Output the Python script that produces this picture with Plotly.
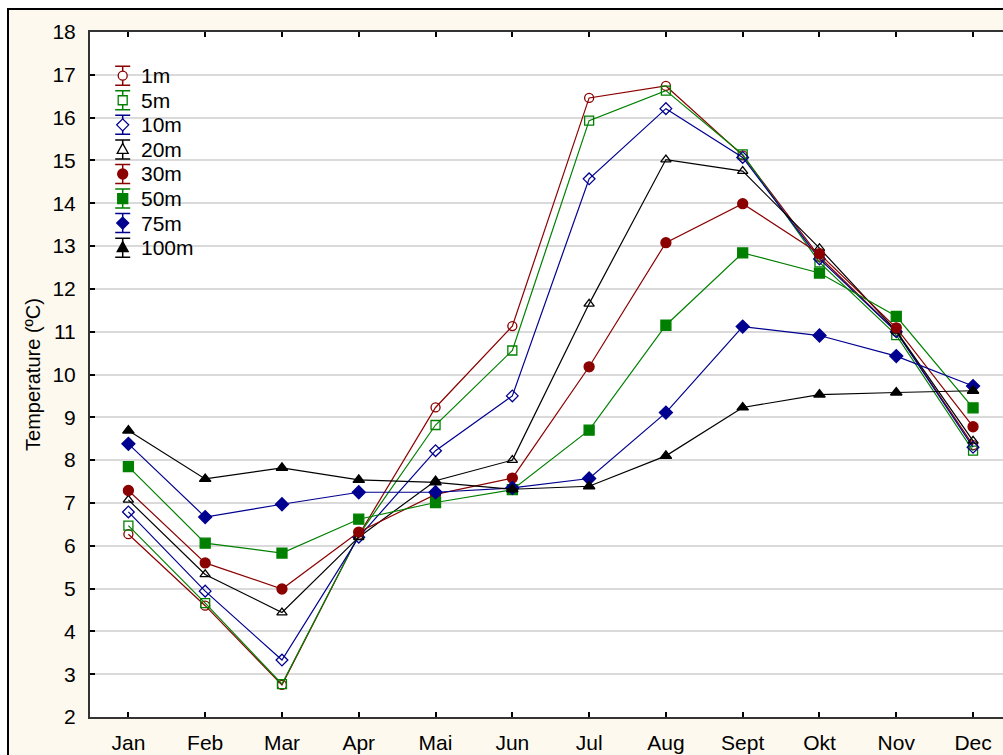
import plotly.graph_objects as go

months = ["Jan", "Feb", "Mar", "Apr", "Mai", "Jun", "Jul", "Aug", "Sept", "Okt", "Nov", "Dec"]

t_1m   = [6.27, 4.6, 2.75, 6.25, 9.23, 11.13, 16.46, 16.74, 15.12, 12.75, 11.0, 8.35]
t_5m   = [6.47, 4.66, 2.77, 6.25, 8.82, 10.56, 15.93, 16.63, 15.14, 12.62, 10.92, 8.22]
t_10m  = [6.79, 4.94, 3.33, 6.2, 8.22, 9.5, 14.57, 16.21, 15.07, 12.7, 11.0, 8.3]
t_20m  = [7.07, 5.33, 4.44, 6.2, 7.52, 8.0, 11.65, 15.02, 14.75, 12.95, 11.02, 8.45]
t_30m  = [7.29, 5.6, 4.99, 6.32, 7.2, 7.58, 10.18, 13.08, 13.99, 12.82, 11.09, 8.78]
t_50m  = [7.85, 6.06, 5.83, 6.62, 7.01, 7.31, 8.7, 11.15, 12.84, 12.37, 11.36, 9.22]
t_75m  = [8.38, 6.67, 6.97, 7.25, 7.25, 7.35, 7.57, 9.11, 11.12, 10.91, 10.43, 9.73]
t_100m = [8.69, 7.56, 7.82, 7.54, 7.48, 7.32, 7.39, 8.1, 9.23, 9.53, 9.58, 9.62]

series_names = ["1m", "5m", "10m", "20m", "30m", "50m", "75m", "100m"]
series_values = [t_1m, t_5m, t_10m, t_20m, t_30m, t_50m, t_75m, t_100m]

RED = "#8B0000"
GREEN = "#008000"
BLUE = "#000090"
BLACK = "#000000"
colors = [RED, GREEN, BLUE, BLACK, RED, GREEN, BLUE, BLACK]
symbols = ["circle-open", "square-open", "diamond-open", "triangle-up-open",
           "circle", "square", "diamond", "triangle-up"]
sizes = [9, 9, 9, 9, 10, 10, 10, 10]

FONT = "Liberation Sans, Arial, sans-serif"

fig = go.Figure()
for name, vals, c, s, sz in zip(series_names, series_values, colors, symbols, sizes):
    fig.add_trace(go.Scatter(
        x=months, y=vals, mode="lines+markers", name=name, showlegend=False,
        line=dict(color=c, width=1.2),
        marker=dict(symbol=s, size=sz, color=c, line=dict(color=c, width=1.3)),
    ))

# ---- plot-area geometry (pixels) used for the hand-built legend ----
PL, PR, PT, PB = 90, 1003, 32, 717
W, H = PR - PL, PB - PT


def px2paper_x(px):
    return (px - PL) / W


def px2paper_y(py):
    return (PB - py) / H


# ---- legend: error-bar style symbol + marker + text ----
shapes = [
    dict(type="rect", xref="paper", yref="paper",
         x0=px2paper_x(8), x1=1.2, y0=-0.3, y1=px2paper_y(9),
         fillcolor="#FEF9EE", line=dict(color="#000000", width=2), layer="below"),
    dict(type="rect", xref="paper", yref="paper",
         x0=0, x1=1, y0=0, y1=1,
         fillcolor="#FFFFFF", line=dict(width=0), layer="below"),
]
annotations = []
LEG_X, LEG_Y0, LEG_DY, TXT_X = 122.7, 75.7, 24.57, 138.5
for i, (name, c, s) in enumerate(zip(series_names, colors, symbols)):
    cy = LEG_Y0 + i * LEG_DY
    ax, ay = px2paper_x(LEG_X), px2paper_y(cy)
    base = dict(xref="paper", yref="paper", xsizemode="pixel", ysizemode="pixel",
                xanchor=ax, yanchor=ay, layer="above")
    shapes.append(dict(base, type="path",
                       path="M-7.5,-9.5 H7.5 M0,-9.5 V9.5 M-7.5,9.5 H7.5",
                       line=dict(color=c, width=1.5)))
    filled = not s.endswith("open")
    fill = c if filled else "#FFFFFF"
    if s.startswith("circle"):
        r = 5 if filled else 4.5
        shapes.append(dict(base, type="circle", x0=-r, x1=r, y0=-r, y1=r,
                           fillcolor=fill, line=dict(color=c, width=1.3)))
    elif s.startswith("square"):
        r = 5 if filled else 4.5
        shapes.append(dict(base, type="rect", x0=-r, x1=r, y0=-r, y1=r,
                           fillcolor=fill, line=dict(color=c, width=1.3)))
    elif s.startswith("diamond"):
        shapes.append(dict(base, type="path", path="M0,6 L6,0 L0,-6 L-6,0 Z",
                           fillcolor=fill, line=dict(color=c, width=1.3)))
    else:
        shapes.append(dict(base, type="path", path="M-5.5,-4 L5.5,-4 L0,6 Z",
                           fillcolor=fill, line=dict(color=c, width=1.3)))
    annotations.append(dict(
        xref="paper", yref="paper", x=px2paper_x(TXT_X), y=ay,
        xanchor="left", yanchor="middle", text=name, showarrow=False,
        font=dict(family=FONT, size=21, color="#000000"),
    ))

axis_font = dict(family=FONT, size=21, color="#000000")

fig.update_layout(
    width=1003, height=755,
    margin=dict(l=PL, r=1003 - PR, t=PT, b=755 - PB),
    paper_bgcolor="#FFFFFF",
    plot_bgcolor="#FFFFFF",
    font=dict(family=FONT, color="#000000"),
    showlegend=False,
    xaxis=dict(
        type="category", categoryorder="array", categoryarray=months,
        range=[-0.5, 11.39],
        showgrid=False, zeroline=False,
        showline=True, linecolor="#333333", linewidth=2, mirror="ticks",
        ticks="inside", ticklen=5, tickwidth=1.5, tickcolor="#000000",
        tickfont=axis_font, ticklabelstandoff=6,
    ),
    yaxis=dict(
        range=[2, 18], tickmode="linear", tick0=2, dtick=1,
        showgrid=True, gridcolor="#DADADA", gridwidth=1.5,
        zeroline=False,
        showline=True, linecolor="#333333", linewidth=2,
        ticks="inside", ticklen=5, tickwidth=1.5, tickcolor="#000000",
        tickfont=axis_font, ticklabelstandoff=8,
        title=dict(text="Temperature (ºC)", font=dict(family=FONT, size=20, color="#000000"),
                   standoff=6),
    ),
    shapes=shapes,
    annotations=annotations,
)

fig.write_html(
    "out.html",
    config={"displayModeBar": False},
    post_script="document.body.style.margin='0';document.body.style.overflow='hidden';",
)
